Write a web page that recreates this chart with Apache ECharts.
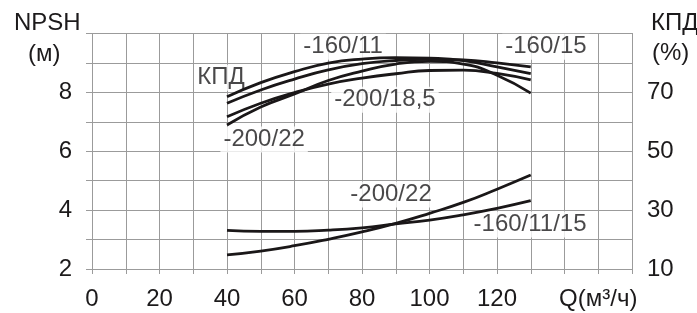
<!DOCTYPE html>
<html>
<head>
<meta charset="utf-8">
<script src="https://cdn.jsdelivr.net/npm/echarts@6/dist/echarts.min.js"></script>
<style>
html,body{margin:0;padding:0;background:#fff;}
#c{width:697px;height:313px;}
</style>
</head>
<body>
<div id="c"></div>
<script>
// Flow Q (m3/h)
const flow = [40, 50, 60, 70, 80, 90, 100, 110, 120, 130];
// NPSH (m), left axis
const npsh_160_11_15 = [3.31, 3.28, 3.28, 3.32, 3.40, 3.53, 3.66, 3.84, 4.06, 4.32];
const npsh_200_22   = [2.48, 2.61, 2.79, 3.01, 3.26, 3.55, 3.89, 4.26, 4.71, 5.19];
// Efficiency КПД (%), right axis
const eff_160_11  = [68.5, 73.3, 77.0, 79.9, 81.3, 81.8, 81.6, 80.8, 78.6, 76.3];
const eff_160_15  = [66.3, 70.8, 74.5, 77.6, 79.7, 80.8, 81.2, 81.0, 80.0, 78.6];
const eff_200_18  = [61.7, 66.3, 69.9, 72.8, 74.8, 76.3, 77.4, 77.5, 76.4, 74.2];
const eff_200_22  = [58.9, 65.0, 69.4, 74.0, 77.2, 79.6, 80.5, 79.6, 75.8, 69.7];
// Tick labels
const xTickLabels = [0, 20, 40, 60, 80, 100, 120];
const xAxisName = 'Q(м³/ч)';
const leftTickLabels = [2, 4, 6, 8];
const rightTickLabels = [10, 30, 50, 70];
// Curve annotations: [Q, NPSH-scale value, text]
const annotations = [
  [38.2, 8.49, 'КПД'],
  [74.4, 9.55, '-160/11'],
  [134.5, 9.55, '-160/15'],
  [86.8, 7.75, '-200/18,5'],
  [51.0, 6.40, '-200/22'],
  [88.6, 4.53, '-200/22'],
  [129.8, 3.51, '-160/11/15']
];

const FONT = "'Liberation Sans', Arial, sans-serif";
const TXT = '#1c1a1b';
const GRID = '#9b9b9b';
const FS = 24;

function pairs(ys){ return flow.map((q,i)=>[q, ys[i]]); }
function curve(name, ys, axisIdx){
  return {
    name: name, type: 'line', smooth: true, showSymbol: false, symbol: 'none',
    yAxisIndex: axisIdx, data: pairs(ys), z: 5,
    lineStyle: {color: '#1a1718', width: 2.8},
    emphasis: {disabled: true}, silent: true
  };
}

const chart = echarts.init(document.getElementById('c'));
chart.setOption({
  animation: false,
  backgroundColor: '#fff',
  textStyle: {fontFamily: FONT},
  grid: {left: 92, right: 65, top: 33.4, bottom: 44, containLabel: false},
  xAxis: {
    type: 'value', min: 0, max: 160, interval: 10,
    axisLine: {show: true, lineStyle: {color: GRID, width: 1}},
    axisTick: {show: true, length: 5, lineStyle: {color: GRID}},
    splitLine: {show: true, lineStyle: {color: GRID, width: 1}},
    axisLabel: {
      fontSize: FS, color: TXT, fontFamily: FONT, margin: 18, interval: 0,
      showMaxLabel: true, showMinLabel: true,
      formatter: v => xTickLabels.includes(v) ? String(v) : (v === 150 ? xAxisName : '')
    }
  },
  yAxis: [
    {
      type: 'value', min: 2, max: 10, interval: 1, position: 'left',
      axisLine: {show: true, lineStyle: {color: GRID, width: 1}},
      axisTick: {show: true, length: 6, lineStyle: {color: GRID}},
      splitLine: {show: true, lineStyle: {color: GRID, width: 1}},
      axisLabel: {
        fontSize: FS, color: TXT, fontFamily: FONT, margin: 20,
        formatter: v => leftTickLabels.includes(v) ? String(v) : ''
      }
    },
    {
      type: 'value', min: 10, max: 90, interval: 10, position: 'right',
      axisLine: {show: true, lineStyle: {color: GRID, width: 1}},
      axisTick: {show: false},
      splitLine: {show: false},
      axisLabel: {
        fontSize: FS, color: TXT, fontFamily: FONT, margin: 15,
        formatter: v => rightTickLabels.includes(v) ? String(v) : ''
      }
    }
  ],
  graphic: [
    {type: 'text', left: 14, top: 11, style: {text: 'NPSH', font: FS + 'px ' + FONT, fill: TXT}},
    {type: 'text', left: 28, top: 42, style: {text: '(м)', font: FS + 'px ' + FONT, fill: TXT}},
    {type: 'text', left: 651, top: 11, style: {text: 'КПД', font: FS + 'px ' + FONT, fill: TXT}},
    {type: 'text', left: 652, top: 41, style: {text: '(%)', font: FS + 'px ' + FONT, fill: TXT}}
  ],
  series: [
    curve('NPSH -160/11/15', npsh_160_11_15, 0),
    curve('NPSH -200/22', npsh_200_22, 0),
    curve('КПД -160/11', eff_160_11, 1),
    curve('КПД -160/15', eff_160_15, 1),
    curve('КПД -200/18,5', eff_200_18, 1),
    curve('КПД -200/22', eff_200_22, 1),
    {
      name: 'labels', type: 'scatter', yAxisIndex: 0, symbolSize: 0, z: 2, silent: true,
      data: annotations.map(a => ({value: [a[0], a[1]], name: a[2]})),
      label: {
        show: true, position: 'inside', formatter: p => p.name,
        fontSize: FS, color: TXT, fontFamily: FONT,
        backgroundColor: '#fff', padding: [1, 3]
      }
    }
  ]
});
</script>
</body>
</html>
